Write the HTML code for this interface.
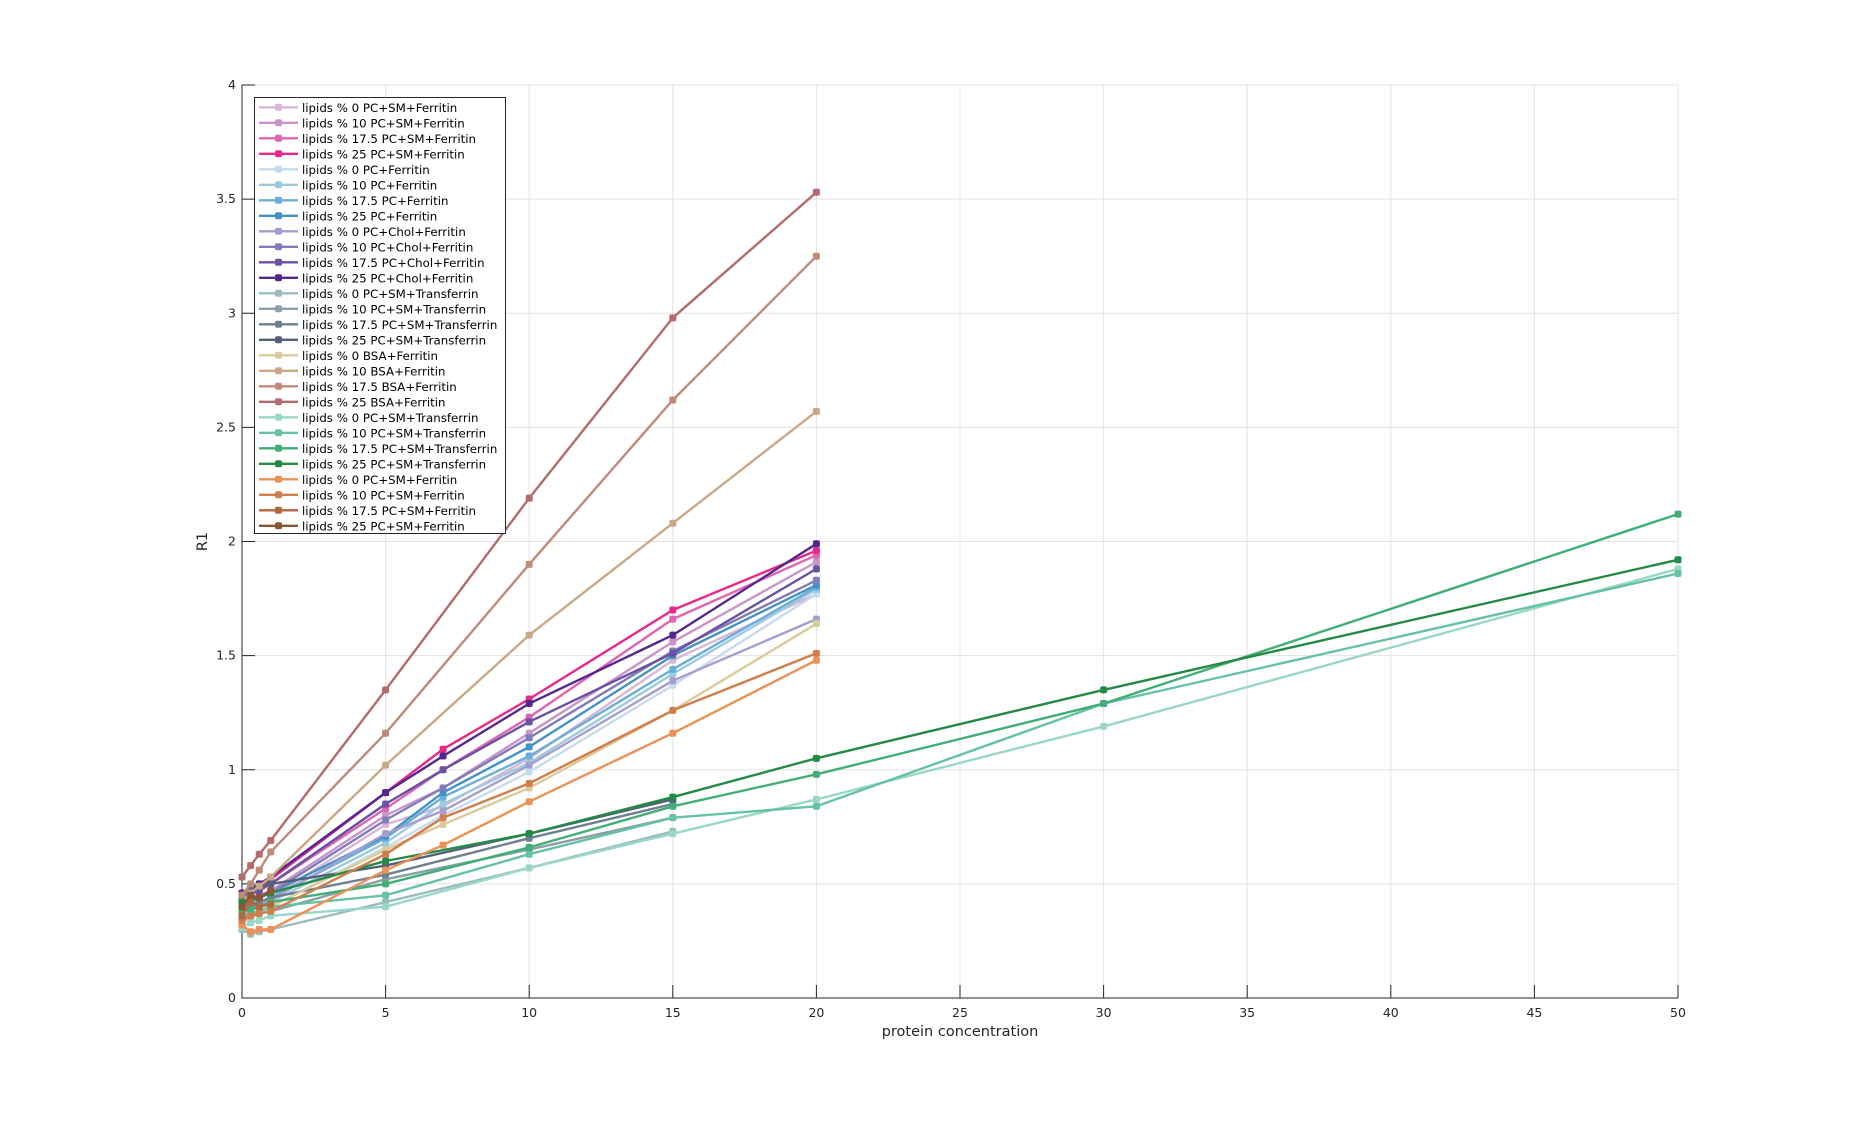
<!DOCTYPE html>
<html><head><meta charset="utf-8"><style>
html,body{margin:0;padding:0;background:#fff;}
svg{display:block;font-family:"DejaVu Sans","Liberation Sans",sans-serif;}
</style></head><body>
<svg id="chart" width="1855" height="1121" viewBox="0 0 1855 1121" xmlns="http://www.w3.org/2000/svg">
<rect width="1855" height="1121" fill="#fff"/>
<g id="grid"></g>
<g id="axes"></g>
<g id="series"></g>
<g id="legend"></g>
</svg>
<script>
var xTicks=[0,5,10,15,20,25,30,35,40,45,50];
var yTicks=[0,0.5,1,1.5,2,2.5,3,3.5,4];
var yTickLabels=["0","0.5","1","1.5","2","2.5","3","3.5","4"];
var seriesNames=["lipids % 0 PC+SM+Ferritin","lipids % 10 PC+SM+Ferritin","lipids % 17.5 PC+SM+Ferritin","lipids % 25 PC+SM+Ferritin","lipids % 0 PC+Ferritin","lipids % 10 PC+Ferritin","lipids % 17.5 PC+Ferritin","lipids % 25 PC+Ferritin","lipids % 0 PC+Chol+Ferritin","lipids % 10 PC+Chol+Ferritin","lipids % 17.5 PC+Chol+Ferritin","lipids % 25 PC+Chol+Ferritin","lipids % 0 PC+SM+Transferrin","lipids % 10 PC+SM+Transferrin","lipids % 17.5 PC+SM+Transferrin","lipids % 25 PC+SM+Transferrin","lipids % 0 BSA+Ferritin","lipids % 10 BSA+Ferritin","lipids % 17.5 BSA+Ferritin","lipids % 25 BSA+Ferritin","lipids % 0 PC+SM+Transferrin","lipids % 10 PC+SM+Transferrin","lipids % 17.5 PC+SM+Transferrin","lipids % 25 PC+SM+Transferrin","lipids % 0 PC+SM+Ferritin","lipids % 10 PC+SM+Ferritin","lipids % 17.5 PC+SM+Ferritin","lipids % 25 PC+SM+Ferritin"];
var seriesColors=["#d8b5d9","#c994c7","#df65b0","#e7298a","#c6dbef","#9ecae1","#6baed6","#4292c6","#a59fd0","#807dba","#6a51a3","#54278f","#9bbcbc","#8a9fa8","#6f8090","#56607a","#dccb9a","#c9a985","#bf8b78","#b46b6b","#99d8c9","#66c2a4","#41ae76","#238b45","#ec9158","#d07e4c","#b0683e","#8c5535"];
var xA=[0,0.3,0.6,1,5,7,10,15,20];
var xB=[0,0.3,0.6,1,5,10,15];
var xC=[0,0.3,0.6,1,5,10,15,20];
var xD=[0,0.3,0.6,1,5,10,15,20,30,50];
var xE=[0,0.3,0.6,1];
var seriesX=[xA,xA,xA,xA,xA,xA,xA,xA,xA,xA,xA,xA,xB,xB,xB,xB,xA,xC,xC,xC,xD,xD,xD,xD,xA,xA,xE,xE];
var s1=[0.40,0.41,0.42,0.44,0.76,0.84,1.05,1.48,1.77];
var s2=[0.42,0.43,0.45,0.47,0.80,0.92,1.16,1.56,1.91];
var s3=[0.43,0.45,0.47,0.50,0.83,1.00,1.23,1.66,1.94];
var s4=[0.44,0.46,0.48,0.52,0.90,1.09,1.31,1.70,1.96];
var s5=[0.36,0.37,0.38,0.40,0.66,0.80,0.99,1.37,1.77];
var s6=[0.37,0.38,0.40,0.42,0.68,0.85,1.03,1.42,1.79];
var s7=[0.38,0.40,0.42,0.44,0.70,0.88,1.06,1.44,1.80];
var s8=[0.40,0.42,0.44,0.46,0.71,0.90,1.10,1.50,1.81];
var s9=[0.38,0.40,0.41,0.43,0.72,0.82,1.02,1.39,1.66];
var s10=[0.41,0.43,0.44,0.46,0.78,0.92,1.14,1.52,1.83];
var s11=[0.44,0.46,0.47,0.50,0.85,1.00,1.21,1.51,1.88];
var s12=[0.46,0.48,0.50,0.53,0.90,1.06,1.29,1.59,1.99];
var s13=[0.30,0.28,0.29,0.30,0.42,0.57,0.73];
var s14=[0.35,0.36,0.37,0.38,0.52,0.65,0.79];
var s15=[0.40,0.41,0.42,0.44,0.54,0.70,0.85];
var s16=[0.45,0.48,0.49,0.50,0.58,0.72,0.87];
var s17=[0.33,0.35,0.37,0.40,0.65,0.76,0.92,1.26,1.64];
var s18=[0.42,0.46,0.49,0.53,1.02,1.59,2.08,2.57];
var s19=[0.45,0.50,0.56,0.64,1.16,1.90,2.62,3.25];
var s20=[0.53,0.58,0.63,0.69,1.35,2.19,2.98,3.53];
var s21=[0.31,0.33,0.34,0.36,0.40,0.57,0.72,0.87,1.19,1.88];
var s22=[0.36,0.37,0.38,0.40,0.45,0.63,0.79,0.84,1.29,1.86];
var s23=[0.38,0.39,0.40,0.42,0.50,0.66,0.84,0.98,1.29,2.12];
var s24=[0.42,0.43,0.44,0.46,0.60,0.72,0.88,1.05,1.35,1.92];
var s25=[0.32,0.29,0.30,0.30,0.56,0.67,0.86,1.16,1.48];
var s26=[0.34,0.36,0.37,0.38,0.63,0.79,0.94,1.26,1.51];
var s27=[0.36,0.42,0.40,0.41];
var s28=[0.40,0.45,0.44,0.47];
var seriesY=[s1,s2,s3,s4,s5,s6,s7,s8,s9,s10,s11,s12,s13,s14,s15,s16,s17,s18,s19,s20,s21,s22,s23,s24,s25,s26,s27,s28];

var L=242,R=1678,T=85,B=998,NS="http://www.w3.org/2000/svg";
function sx(v){return L+(v-0)/(50-0)*(R-L);}
function sy(v){return B-(v-0)/(4-0)*(B-T);}
function mk(tag,attrs,parent){var e=document.createElementNS(NS,tag);for(var k in attrs)e.setAttribute(k,attrs[k]);parent.appendChild(e);return e;}
var grid=document.getElementById('grid'),axes=document.getElementById('axes'),ser=document.getElementById('series'),leg=document.getElementById('legend');
xTicks.forEach(function(t){
 var g=mk('line',{x1:sx(t),x2:sx(t),y1:T,y2:B,stroke:'#e3e3e3','stroke-width':1},grid);
 
 
 var tk=mk('line',{x1:sx(t),x2:sx(t),y1:B,y2:B-13,stroke:'#262626','stroke-width':1},axes);
 
 
 var tx=mk('text',{x:sx(t),y:B+19,'text-anchor':'middle','font-size':12.5,fill:'#262626'},axes);
 tx.textContent=String(t);
 
 
});
yTicks.forEach(function(t,i){
 var g=mk('line',{x1:L,x2:R,y1:sy(t),y2:sy(t),stroke:'#e3e3e3','stroke-width':1},grid);
 
 
 var tk=mk('line',{x1:L,x2:L+13,y1:sy(t),y2:sy(t),stroke:'#262626','stroke-width':1},axes);
 
 
 var tx=mk('text',{x:L-6,y:sy(t)+4,'text-anchor':'end','font-size':12.5,fill:'#262626'},axes);
 tx.textContent=yTickLabels[i];
 
 
});
var ax=mk('path',{d:'M'+L+' '+T+' L'+L+' '+B+' L'+R+' '+B,fill:'none',stroke:'#262626','stroke-width':1},axes);


var xl=mk('text',{x:(L+R)/2,y:B+38,'text-anchor':'middle','font-size':14.5,fill:'#262626'},axes);
xl.textContent='protein concentration';


var yl=mk('text',{x:0,y:0,'text-anchor':'middle','font-size':14.5,fill:'#262626',transform:'translate(207,'+((T+B)/2)+') rotate(-90)'},axes);
yl.textContent='R1';


function marker(x,y,c,p){var m=mk('rect',{x:x-3.5,y:y-3.5,width:7,height:7,rx:2,fill:c},p);return m;}
seriesY.forEach(function(ys,i){
 var xs=seriesX[i],c=seriesColors[i];
 var g=mk('g',{},ser);
 
 
 var d=ys.map(function(v,j){return (j?'L':'M')+sx(xs[j]).toFixed(1)+' '+sy(v).toFixed(1);}).join(' ');
 var pl=mk('path',{d:d,fill:'none',stroke:c,'stroke-width':2.4,'stroke-linejoin':'round'},g);
 
 
 ys.forEach(function(v,j){
  var m=marker(sx(xs[j]),sy(v),c,g);
  
  
 });
});
var lb=mk('rect',{x:254.5,y:97.5,width:251,height:436,fill:'#fff',stroke:'#262626','stroke-width':1},leg);


seriesNames.forEach(function(n,i){
 var y=107.3+i*15.5;
 var g=mk('g',{},leg);
 
 
 mk('line',{x1:259,x2:298,y1:y,y2:y,stroke:seriesColors[i],'stroke-width':2.4},g);
 marker(278.5,y,seriesColors[i],g);
 var t=mk('text',{x:302,y:y+4.5,'font-size':11.8,fill:'#000'},g);
 t.textContent=n;
});
</script>
</body></html>
